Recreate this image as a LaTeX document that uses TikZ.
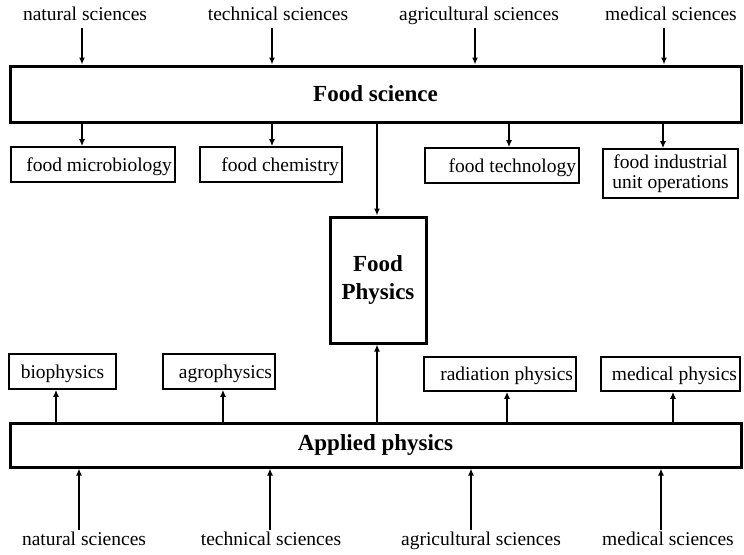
\documentclass[tikz,border=0pt]{standalone}
\usepackage{fontspec}
\setmainfont{Liberation Serif}
\usetikzlibrary{arrows.meta}

\begin{document}
\begin{tikzpicture}[x=1pt,y=-1pt,
    every node/.style={font=\fontsize{19.5}{20}\selectfont},
    lbl/.style={inner sep=4pt, text height=14pt, text depth=4pt},
    big/.style={draw, line width=3pt, font=\fontsize{23}{28}\selectfont\bfseries},
    box/.style={draw, line width=1.6pt, inner xsep=3pt, inner ysep=0pt, minimum height=35pt, align=flush right},
    sub/.style={box, text height=16pt, text depth=2.5pt},
    arr/.style={line width=1.6pt, -{Latex[length=7pt,width=6pt]}}]

    \useasboundingbox (0,0) rectangle (744,554);

    % sciences on top
    \node[lbl] (tnat) at (85,15) {natural sciences};
    \node[lbl] (ttech) at (278,15) {technical sciences};
    \node[lbl] (tagr) at (479,15) {agricultural sciences};
    \node[lbl] (tmed) at (671,15) {medical sciences};

    \node[big, minimum width=731pt, minimum height=56pt] (fs) at (375.5,94) {Food science};

    \node[sub, text width=158pt] (mic) at (93,164.5) {food microbiology};
    \node[sub, text width=136pt] (chem) at (271,164.5) {food chemistry};
    \node[sub, text width=148pt] (tech) at (502,165.5) {food technology};
    \node[box, text width=129pt, align=flush center, minimum height=49pt] (unit) at (670.5,173.5)
        {\baselineskip=18pt food industrial\\unit operations};

    \node[big, minimum width=96pt, minimum height=126pt, align=flush center] (fp) at (378,280) {Food\\Physics};

    \node[sub, text width=101pt, align=flush center] (bio) at (62.5,371.5) {biophysics};
    \node[sub, text width=106pt] (agro) at (219,371.5) {agrophysics};
    \node[sub, text width=146pt, minimum height=34pt] (rad) at (500,374) {radiation physics};
    \node[sub, text width=133pt, minimum height=34pt] (med) at (670.5,374) {medical physics};

    \node[big, minimum width=731pt, minimum height=44pt] (ap) at (375.5,445) {Applied physics};

    % sciences at the bottom
    \node[lbl] (bnat) at (84,540) {natural sciences};
    \node[lbl] (btech) at (271,540) {technical sciences};
    \node[lbl] (bagr) at (481,540) {agricultural sciences};
    \node[lbl] (bmed) at (668,540) {medical sciences};

    % into food science
    \draw[arr] ([xshift=-3pt]tnat.south) -- ([xshift=-3pt]tnat.south |- fs.north);
    \draw[arr] ([xshift=-6pt]ttech.south) -- ([xshift=-6pt]ttech.south |- fs.north);
    \draw[arr] ([xshift=-4pt]tagr.south) -- ([xshift=-4pt]tagr.south |- fs.north);
    \draw[arr] ([xshift=-7pt]tmed.south) -- ([xshift=-7pt]tmed.south |- fs.north);

    % out of food science
    \draw[arr] ([xshift=-11pt]mic.north |- fs.south) -- ([xshift=-11pt]mic.north);
    \draw[arr] ([xshift=1pt]chem.north |- fs.south) -- ([xshift=1pt]chem.north);
    \draw[arr] ([xshift=7pt]tech.north |- fs.south) -- ([xshift=7pt]tech.north);
    \draw[arr] ([xshift=-7.5pt]unit.north |- fs.south) -- ([xshift=-7.5pt]unit.north);
    \draw[arr] ([xshift=-1pt]fp.north |- fs.south) -- ([xshift=-1pt]fp.north);

    % out of applied physics
    \draw[arr] ([xshift=-6.5pt]bio.south |- ap.north) -- ([xshift=-6.5pt]bio.south);
    \draw[arr] ([xshift=4pt]agro.south |- ap.north) -- ([xshift=4pt]agro.south);
    \draw[arr] ([xshift=-1pt]fp.south |- ap.north) -- ([xshift=-1pt]fp.south);
    \draw[arr] ([xshift=7pt]rad.south |- ap.north) -- ([xshift=7pt]rad.south);
    \draw[arr] ([xshift=2.5pt]med.south |- ap.north) -- ([xshift=2.5pt]med.south);

    % into applied physics
    \draw[arr] ([xshift=-5pt,yshift=-3pt]bnat.north) -- ([xshift=-5pt]bnat.north |- ap.south);
    \draw[arr] ([xshift=-1pt,yshift=-3pt]btech.north) -- ([xshift=-1pt]btech.north |- ap.south);
    \draw[arr] ([xshift=-10pt,yshift=-3pt]bagr.north) -- ([xshift=-10pt]bagr.north |- ap.south);
    \draw[arr] ([xshift=-7pt,yshift=-3pt]bmed.north) -- ([xshift=-7pt]bmed.north |- ap.south);

\end{tikzpicture}
\end{document}
